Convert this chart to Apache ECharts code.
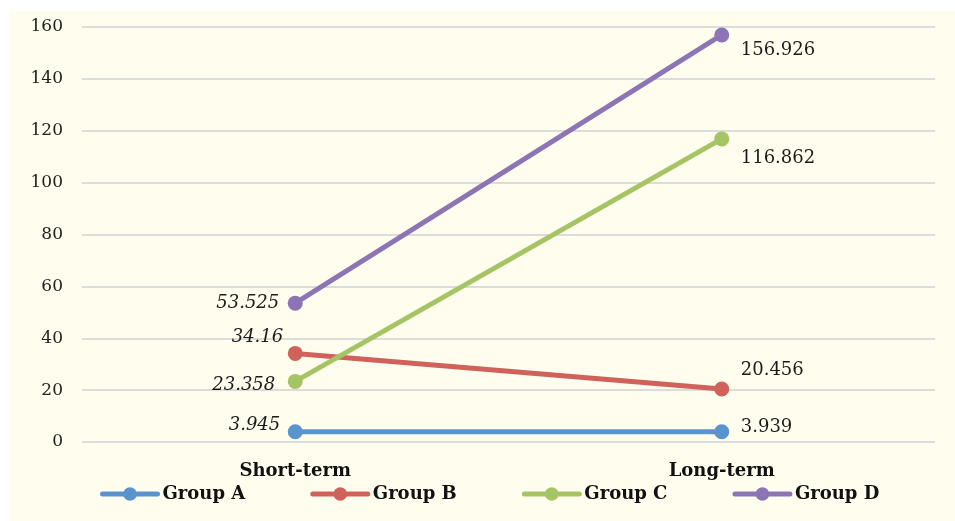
<!DOCTYPE html>
<html>
<head>
<meta charset="utf-8">
<script src="https://cdn.jsdelivr.net/npm/echarts@6/dist/echarts.min.js"></script>
<style>
  html, body { margin: 0; padding: 0; background: #ffffff; }
  #chart { position: absolute; left: 9px; top: 11px; width: 946px; height: 510px; background: #fffeee; }
</style>
</head>
<body>
<div id="chart"></div>
<script>
// Categories and series values
const categories = ['Short-term', 'Long-term'];
const groupNames = ['Group A', 'Group B', 'Group C', 'Group D'];
const groupA = [3.945, 3.939];
const groupB = [34.16, 20.456];
const groupC = [23.358, 116.862];
const groupD = [53.525, 156.926];
const yTicks = [0, 20, 40, 60, 80, 100, 120, 140, 160];

const colors = ['#5b93cf', '#d0625b', '#a5c464', '#8d74b4'];
const serif = '"DejaVu Serif", "Liberation Serif", serif';

// Label placement per point: [offsetX, offsetY, align, fontStyle]
const labelPlacement = {
  'Group A': [[-15, -6, 'right', 'italic'], [19, -4, 'left', 'normal']],
  'Group B': [[-12, -16, 'right', 'italic'], [19, -19, 'left', 'normal']],
  'Group C': [[-20, 4, 'right', 'italic'], [19, 19, 'left', 'normal']],
  'Group D': [[-16, 0, 'right', 'italic'], [19, 15, 'left', 'normal']]
};

function buildSeries(name, values, color) {
  return {
    name: name,
    type: 'line',
    data: values.map((v, i) => {
      const p = labelPlacement[name][i];
      return {
        value: v,
        label: {
          show: true,
          position: 'inside',
          offset: [p[0], p[1]],
          align: p[2],
          verticalAlign: 'middle',
          formatter: (d) => String(d.value),
          fontFamily: serif,
          fontStyle: p[3],
          fontSize: 18,
          color: '#1a1a1a'
        }
      };
    }),
    symbol: 'circle',
    symbolSize: 15,
    lineStyle: { width: 5, color: color },
    itemStyle: { color: color },
    emphasis: { disabled: true },
    z: 3
  };
}

const chart = echarts.init(document.getElementById('chart'), null, { renderer: 'canvas' });
chart.setOption({
  animation: false,
  backgroundColor: '#fffeee',
  grid: { left: 73, right: 20, top: 16, bottom: 79, containLabel: false },
  xAxis: {
    type: 'category',
    data: categories,
    boundaryGap: true,
    axisLine: { show: false },
    axisTick: { show: false },
    axisLabel: {
      fontFamily: serif,
      fontWeight: 'bold',
      fontSize: 18,
      color: '#111',
      margin: 20
    }
  },
  yAxis: {
    type: 'value',
    min: yTicks[0],
    max: yTicks[yTicks.length - 1],
    interval: 20,
    axisLine: { show: false },
    axisTick: { show: false },
    axisLabel: {
      fontFamily: serif,
      fontSize: 17,
      color: '#222',
      margin: 19
    },
    splitLine: { lineStyle: { color: '#dcdcdc', width: 2 } }
  },
  legend: {
    data: groupNames,
    left: 86,
    bottom: 13,
    itemWidth: 55,
    itemHeight: 17,
    itemGap: 65,
    lineStyle: { width: 5, cap: 'round' },
    textStyle: {
      fontFamily: serif,
      fontWeight: 'bold',
      fontSize: 18,
      color: '#111',
      width: 88,
      padding: [0, 0, 0, 0]
    }
  },
  series: [
    buildSeries('Group A', groupA, colors[0]),
    buildSeries('Group B', groupB, colors[1]),
    buildSeries('Group C', groupC, colors[2]),
    buildSeries('Group D', groupD, colors[3])
  ]
});
</script>
</body>
</html>
